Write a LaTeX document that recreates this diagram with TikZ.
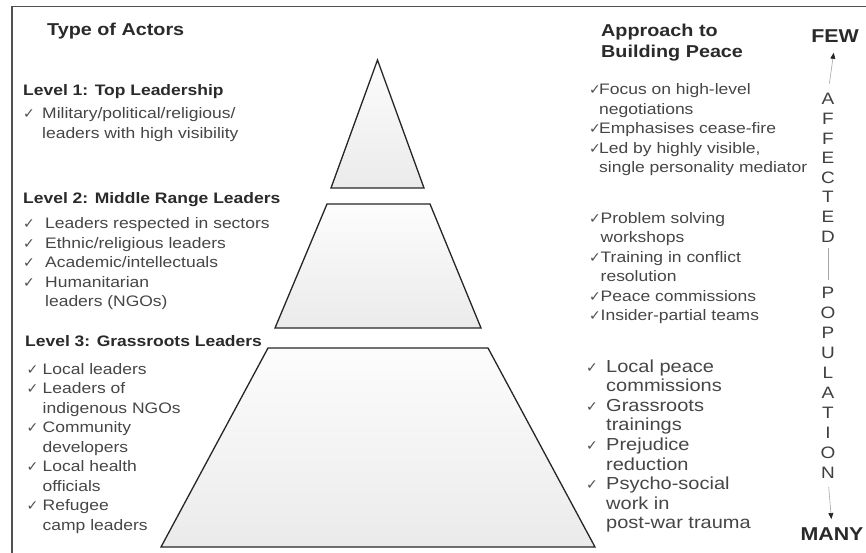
\documentclass[tikz,border=0pt]{standalone}
\usepackage{fontspec}
\setmainfont{Liberation Sans}[FakeStretch=1.15]
\newfontfamily\chkfont{DejaVu Sans}
\usetikzlibrary{arrows.meta}
\definecolor{txt}{HTML}{464646}
\definecolor{hd}{HTML}{2A2A2A}
\definecolor{chk}{HTML}{505050}
\definecolor{framec}{HTML}{505050}
\newcommand\ck[1]{\makebox[#1][l]{\textcolor{chk}{\chkfont\fontsize{14}{14}\selectfont ✓}}}
\begin{document}
\begin{tikzpicture}[x=1pt,y=-1pt,
  body/.style={anchor=base west, inner sep=0pt, text=txt, font=\fontsize{15.2}{19.5}\selectfont},
  bigbody/.style={anchor=base west, inner sep=0pt, text=txt, font=\fontsize{17.4}{19.6}\selectfont},
  head/.style={anchor=base west, inner sep=0pt, text=hd, font=\bfseries\fontsize{15.2}{19.5}\selectfont},
  title/.style={anchor=base west, inner sep=0pt, text=hd, font=\bfseries\fontsize{17.2}{21}\selectfont},
  vlet/.style={anchor=base, inner sep=0pt, text=hd!90, font=\fontsize{16.5}{16}\selectfont},
  endw/.style={anchor=base, inner sep=0pt, text=hd, font=\bfseries\fontsize{18.6}{20}\selectfont},
  tier/.style={draw=black!85, line width=1.3pt, top color=gray!2, bottom color=gray!16, line join=miter},
  varrow/.style={draw=gray!70, line width=0.6pt},
  vtip/.style={-{Triangle[width=5pt,length=6pt,color=black!85]}}
]
\useasboundingbox (0,0) rectangle (866,553);
\fill[white] (0,0) rectangle (866,553);
% frame
\draw[framec, line width=1.2pt] (12,553) -- (12,6.5) -- (866,6.5);

% pyramid tiers
\path[tier] (377.5,60) -- (424,188) -- (331,188) -- cycle;
\path[tier] (327,204) -- (430,204) -- (481,328) -- (275,328) -- cycle;
\path[tier] (268,348) -- (488,348) -- (595,547) -- (161,547) -- cycle;

% left column
\node[title] (actors) at (47,36) {Type of Actors};
\node[head] (lev1) at (23,96) {Level 1: Top Leadership};
\node[body] (lev1i) at (23,119) {\begin{tabular}[t]{@{}l@{}l@{}}\ck{19pt} & Military/political/religious/\\ & leaders with high visibility\end{tabular}};
\node[head] (lev2) at (23,204) {Level 2: Middle Range Leaders};
\node[body] (lev2i) at (23,229) {\begin{tabular}[t]{@{}l@{}l@{}}\ck{22pt} & Leaders respected in sectors\\ \ck{22pt} & Ethnic/religious leaders\\ \ck{22pt} & Academic/intellectuals\\ \ck{22pt} & Humanitarian\\ & leaders (NGOs)\end{tabular}};
\node[head] (lev3) at (25,346) {Level 3: Grassroots Leaders};
\node[body] (lev3i) at (26.5,374) {\begin{tabular}[t]{@{}l@{}l@{}}\ck{16pt} & Local leaders\\ \ck{16pt} & Leaders of\\ & indigenous NGOs\\ \ck{16pt} & Community\\ & developers\\ \ck{16pt} & Local health\\ & officials\\ \ck{16pt} & Refugee\\ & camp leaders\end{tabular}};

% right column
\node[title] (approach) at (601,37) {\begin{tabular}[t]{@{}l@{}}Approach to\\ Building Peace\end{tabular}};
\node[body] (app1) at (589,95) {\begin{tabular}[t]{@{}l@{}l@{}}\ck{10pt} & Focus on high-level\\ & negotiations\\ \ck{10pt} & Emphasises cease-fire\\ \ck{10pt} & Led by highly visible,\\ & single personality mediator\end{tabular}};
\node[body] (app2) at (589,223) {\begin{tabular}[t]{@{}l@{}l@{}}\ck{11.5pt} & Problem solving\\ & workshops\\ \ck{11.5pt} & Training in conflict\\ & resolution\\ \ck{11.5pt} & Peace commissions\\ \ck{11.5pt} & Insider-partial teams\end{tabular}};
\node[bigbody] (app3) at (586,372) {\begin{tabular}[t]{@{}l@{}l@{}}\ck{20pt} & Local peace\\ & commissions\\ \ck{20pt} & Grassroots\\ & trainings\\ \ck{20pt} & Prejudice\\ & reduction\\ \ck{20pt} & Psycho-social\\ & work in\\ & post-war trauma\end{tabular}};

% vertical scale
\node[endw] (few) at (835,43) {FEW};
\node[endw] (many) at (832,540) {MANY};
\foreach \l [count=\i] in {A,F,F,E,C,T,E,D}
  \node[vlet] (a\i) at (828,{105+19.6*(\i-1)}) {\l};
\foreach \l [count=\i] in {P,O,P,U,L,A,T,I,O,N}
  \node[vlet] (p\i) at (828,{298+20*(\i-1)}) {\l};
\draw[varrow, vtip, shorten <=10pt, shorten >=9.7pt] (a1.north) -- (few.south);
\draw[varrow, shorten <=6pt, shorten >=6.5pt] (a8.south) -- (p1.north);
\draw[varrow, vtip, shorten <=9pt, shorten >=8pt] (p10.south) -- (many.north);
\end{tikzpicture}
\end{document}
